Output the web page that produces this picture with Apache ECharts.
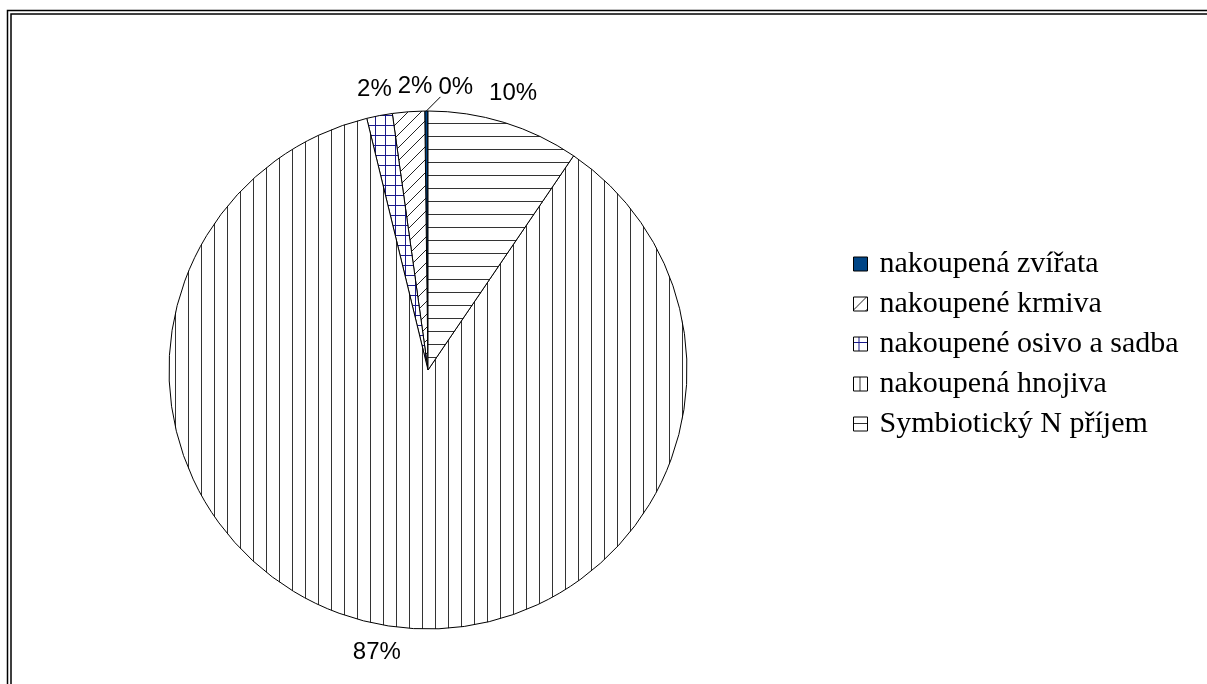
<!DOCTYPE html>
<html>
<head>
<meta charset="utf-8">
<title>Vstupy N</title>
<script src="https://cdn.jsdelivr.net/npm/echarts@6/dist/echarts.min.js"></script>
<style>
  html, body { margin: 0; padding: 0; background: #fff; }
  #main { width: 1207px; height: 684px; }
</style>
</head>
<body>
<div id="main"></div>
<script>
var categories = ['nakoupená zvířata', 'nakoupené krmiva', 'nakoupené osivo a sadba', 'nakoupená hnojiva', 'Symbiotický N příjem'];
var values = [0.2, 2.0, 1.6, 86.7, 9.5];

var CX = 428, CY = 370, R = 259;
var LABEL_FONT = 24;

// hatch fills like the old office patterns
function hatch(kind, size, color) {
  var c = document.createElement('canvas');
  c.width = size;
  c.height = size;
  var g = c.getContext('2d');
  g.fillStyle = '#fff';
  g.fillRect(0, 0, size, size);
  g.strokeStyle = color;
  g.lineWidth = 1;
  var m = Math.floor(size / 2) + 0.5;
  g.beginPath();
  if (kind === 'v' || kind === 'grid') {
    g.moveTo(m, 0); g.lineTo(m, size);
  }
  if (kind === 'h' || kind === 'grid') {
    g.moveTo(0, m); g.lineTo(size, m);
  }
  if (kind === 'd') {
    g.moveTo(0, size); g.lineTo(size, 0);
    g.moveTo(-2, 2); g.lineTo(2, -2);
    g.moveTo(size - 2, size + 2); g.lineTo(size + 2, size - 2);
  }
  g.stroke();
  return { image: c, repeat: 'repeat' };
}

var fills = [
  '#004586',
  hatch('d', 13, '#222'),
  hatch('grid', 10, '#1a1a8c'),
  hatch('v', 13, '#333'),
  hatch('h', 13, '#333')
];

// label spots outside the pie, along each slice's bisector
var total = values.reduce(function (a, b) { return a + b; }, 0);
var spots = [];
var acc = 0;
values.forEach(function (v, i) {
  var a = (90 + (acc + v / 2) / total * 360) * Math.PI / 180;
  acc += v;
  var text = Math.round(v / total * 100) + '%';
  var hw = (text.length - 1) * 0.556 * LABEL_FONT / 2 + 0.889 * LABEL_FONT / 2;
  var hh = LABEL_FONT / 2;
  var gap = 12 + Math.abs(Math.cos(a)) * hw + Math.abs(Math.sin(a)) * hh;
  spots.push({
    text: text, hw: hw, hh: hh,
    ex: CX + R * Math.cos(a), ey: CY - R * Math.sin(a),
    x0: CX + (R + gap) * Math.cos(a),
    x: CX + (R + gap) * Math.cos(a),
    y: CY - (R + gap) * Math.sin(a)
  });
});

// push crowded labels above the centre apart sideways
var upper = spots.filter(function (s) { return s.y < CY; }).sort(function (p, q) { return p.x - q.x; });
for (var k = 1; k < upper.length; k++) {
  var prev = upper[k - 1], cur = upper[k];
  if (Math.abs(cur.y - prev.y) < cur.hh + prev.hh && cur.x - cur.hw < prev.x + prev.hw + 6) {
    cur.x = prev.x + prev.hw + 6 + cur.hw;
  }
}
spots.forEach(function (s) {
  s.leader = Math.abs(s.x - s.x0) > 12;
  if (s.leader) {
    var bx = Math.min(Math.max(s.ex, s.x - s.hw + 2), s.x + s.hw);
    var by = Math.min(Math.max(s.ey, s.y - s.hh + 4), s.y + s.hh - 2);
    s.line = [[s.ex, s.ey], [(s.ex + bx) / 2, (s.ey + by) / 2], [bx, by]];
  }
});

var chart = echarts.init(document.getElementById('main'), null, { renderer: 'canvas' });

var data = [];
for (var i = 0; i < categories.length; i++) {
  data.push({
    name: categories[i],
    value: values[i],
    itemStyle: { color: fills[i] },
    labelLine: { show: spots[i].leader }
  });
}

var option = {
  backgroundColor: '#ffffff',
  animation: false,
  graphic: [
    { type: 'rect', shape: { x: 7.5, y: 10.5, width: 1400, height: 900 }, style: { fill: null, stroke: '#000', lineWidth: 1.5 }, silent: true },
    { type: 'rect', shape: { x: 11, y: 14, width: 1400, height: 900 }, style: { fill: null, stroke: '#000', lineWidth: 1.5 }, silent: true }
  ],
  legend: {
    orient: 'vertical',
    left: 848,
    top: 243,
    icon: 'rect',
    itemWidth: 14,
    itemHeight: 14,
    itemGap: 8,
    selectedMode: false,
    data: categories,
    itemStyle: { borderColor: '#000', borderWidth: 1 },
    textStyle: {
      fontFamily: 'Liberation Serif',
      fontSize: 30,
      lineHeight: 32,
      color: '#000',
      padding: [0, 0, 0, 7]
    }
  },
  series: [{
    type: 'pie',
    center: [CX, CY],
    radius: R,
    startAngle: 90,
    clockwise: false,
    avoidLabelOverlap: false,
    data: data,
    itemStyle: { borderColor: '#000', borderWidth: 1 },
    emphasis: { disabled: true },
    label: {
      show: true,
      position: 'outside',
      fontFamily: 'Liberation Sans',
      fontSize: LABEL_FONT,
      color: '#000',
      formatter: function (p) { return spots[p.dataIndex].text; }
    },
    labelLine: {
      length: 8,
      length2: 0,
      lineStyle: { color: '#000', width: 1 }
    },
    labelLayout: function (p) {
      var s = spots[p.dataIndex];
      var out = { x: s.x, y: s.y, align: 'center', verticalAlign: 'middle' };
      if (s.leader) out.labelLinePoints = s.line;
      return out;
    }
  }]
};

chart.setOption(option);
</script>
</body>
</html>
